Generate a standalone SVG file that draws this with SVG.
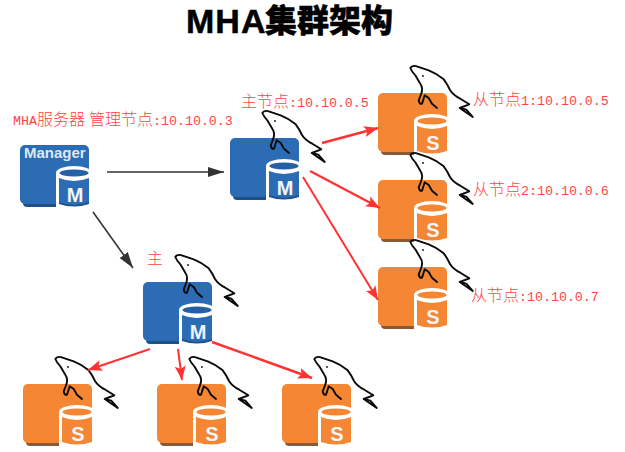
<svg xmlns="http://www.w3.org/2000/svg" width="625" height="452" viewBox="0 0 625 452">
<style>
.lbl{font-family:"Liberation Mono","Noto Sans CJK SC",monospace;font-size:13.300px;fill:#f44}
.cjk{font-family:"Noto Sans CJK SC",sans-serif;font-size:16px;font-weight:300}
.title{font-family:"Liberation Sans","Noto Sans CJK SC",sans-serif;font-size:34px;font-weight:700;fill:#000;stroke:#000;stroke-width:.5}
.tc{font-size:32px;font-weight:900}
.letter{font-family:"Liberation Sans",sans-serif;font-size:20px;font-weight:700;fill:#f2f5f9;text-anchor:middle}
.mgr{font-family:"Liberation Sans",sans-serif;font-size:15px;font-weight:700;fill:#dfe9f5}
.dol{fill:none;stroke:#0a0a0a;stroke-width:1.900;stroke-linejoin:round;stroke-linecap:round}
.red{stroke:#f33;fill:none}
.dark{stroke:#333;stroke-width:1.600;fill:none}
</style>
<defs>
<marker id="ah-dark" markerUnits="userSpaceOnUse" markerWidth="18" markerHeight="12" refX="16" refY="6" orient="auto"><path d="M0 1L16 6L0 11z" fill="#333"/></marker>
<marker id="ah-red" markerUnits="userSpaceOnUse" markerWidth="16" markerHeight="12" refX="14" refY="6" orient="auto"><path d="M0 0.500L14 6L0 11.500L3 6z" fill="#f33"/></marker>
<g id="dolphin"><path class="dol" d="M32.300 -25Q34 -28 38 -26.800L50.700 -22.700Q59 -19.500 65.700 -13.700Q69 -9.500 72 -3Q75 2 82.300 5.700L91.300 11.300L81.700 15L88.300 16.700L94.700 24L81.700 15M32.300 -25Q34 -21 37.300 -17.700L42.300 -9.300Q45.500 -5 43 1.500L40.700 7.300Q41.500 11.500 44 10.700L46.700 2.300L50.700 5L54 10.700L59 15"/><circle cx="45" cy="-17" r=".9" fill="#0a0a0a"/></g>
<g id="blue"><rect x="3" y="2" width="46" height="60" rx="4" fill="#1e4f86"/><rect width="69" height="59" rx="5" fill="#2b6cb5"/><path d="M36 28A18 7 0 0 1 72 28V59Q72 64 64 64H36z" fill="#fff"/><path d="M39 33Q54 39 69 33V58Q54 64 39 58z" fill="#2b6cb5"/><path d="M39 57Q54 63 69 57V59Q54 64 39 59z" fill="#1e4f86"/><ellipse cx="54" cy="28" rx="14.500" ry="3.500" fill="#2460a3"/></g>
<g id="orange"><rect x="3" y="2" width="46" height="60" rx="4" fill="#8a5a36"/><rect width="69" height="59" rx="5" fill="#f48634"/><path d="M36 28A18 7 0 0 1 72 28V59Q72 64 64 64H36z" fill="#fff"/><path d="M39 33Q54 39 69 33V58Q54 63 39 58z" fill="#f48634"/><ellipse cx="54" cy="28" rx="14.500" ry="3.500" fill="#f48634"/></g>
</defs>
<rect width="625" height="452" fill="#fff"/>
<text class="title" x="186" y="33" letter-spacing="1">MHA<tspan class="tc" x="265" y="32" letter-spacing="0">集群架构</tspan></text>

<g id="node-manager"><use href="#blue" x="20" y="145"/><text class="mgr" x="24" y="158">Manager</text><text class="letter" x="75" y="202">M</text></g>
<g id="node-master1"><use href="#blue" x="230" y="138"/><use href="#dolphin" x="230" y="138"/><text class="letter" x="285" y="195">M</text></g>
<g id="node-master2"><use href="#blue" x="143" y="282"/><use href="#dolphin" x="143" y="282"/><text class="letter" x="198" y="339">M</text></g>
<g id="node-slave1"><use href="#orange" x="378" y="93"/><use href="#dolphin" x="378" y="93"/><text class="letter" x="433" y="150">S</text></g>
<g id="node-slave2"><use href="#orange" x="378" y="180"/><use href="#dolphin" x="378" y="180"/><text class="letter" x="433" y="237">S</text></g>
<g id="node-slave3"><use href="#orange" x="378" y="267"/><use href="#dolphin" x="378" y="267"/><text class="letter" x="433" y="324">S</text></g>
<g id="node-slave4"><use href="#orange" x="23" y="384"/><use href="#dolphin" x="23" y="384"/><text class="letter" x="78" y="441">S</text></g>
<g id="node-slave5"><use href="#orange" x="157" y="384"/><use href="#dolphin" x="157" y="384"/><text class="letter" x="212" y="441">S</text></g>
<g id="node-slave6"><use href="#orange" x="282" y="384"/><use href="#dolphin" x="282" y="384"/><text class="letter" x="337" y="441">S</text></g>

<g id="connectors">
<line class="dark" x1="107" y1="172" x2="224" y2="172" marker-end="url(#ah-dark)"/>
<line class="dark" x1="93" y1="212" x2="133" y2="268" marker-end="url(#ah-dark)"/>
<line class="red" stroke-width="2.400" x1="322" y1="143" x2="378" y2="128" marker-end="url(#ah-red)"/>
<line class="red" stroke-width="2.400" x1="310" y1="171" x2="380" y2="208" marker-end="url(#ah-red)"/>
<line class="red" stroke-width="2" x1="303" y1="177" x2="378" y2="300" marker-end="url(#ah-red)"/>
<line class="red" stroke-width="2" x1="150" y1="349" x2="88" y2="370" marker-end="url(#ah-red)"/>
<line class="red" stroke-width="2" x1="178" y1="349" x2="182" y2="380" marker-end="url(#ah-red)"/>
<line class="red" stroke-width="2.400" x1="212" y1="342" x2="312" y2="378" marker-end="url(#ah-red)"/>
</g>

<g id="labels">
<text class="lbl" x="13" y="125">MHA<tspan class="cjk">服务器</tspan><tspan class="cjk" x="89">管理节点</tspan>:10.10.0.3</text>
<text class="lbl" x="241" y="107"><tspan class="cjk">主节点</tspan>:10.10.0.5</text>
<text class="lbl" x="473" y="105"><tspan class="cjk">从节点</tspan>1:10.10.0.5</text>
<text class="lbl" x="473" y="195"><tspan class="cjk">从节点</tspan>2:10.10.0.6</text>
<text class="lbl" x="471" y="301"><tspan class="cjk">从节点</tspan>:10.10.0.7</text>
<text class="lbl" x="147" y="264"><tspan class="cjk">主</tspan></text>
</g>
</svg>
